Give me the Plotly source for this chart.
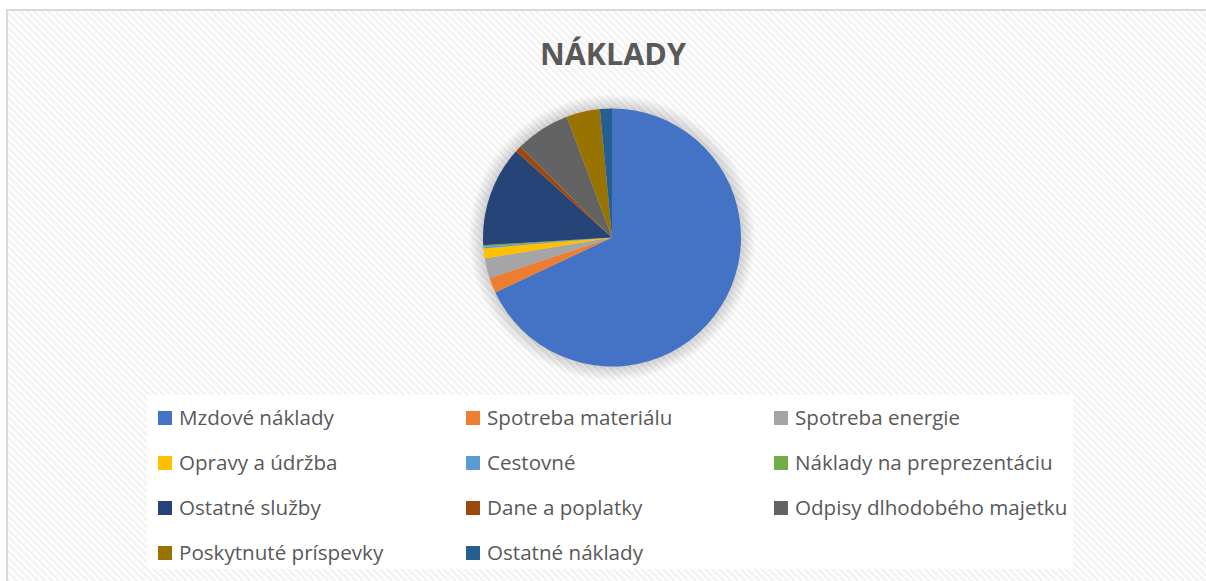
import base64
import plotly.graph_objects as go

# ---- data ----
labels = ["Mzdové náklady", "Spotreba materiálu", "Spotreba energie",
          "Opravy a údržba", "Cestovné", "Náklady na preprezentáciu",
          "Ostatné služby", "Dane a poplatky", "Odpisy dlhodobého majetku",
          "Poskytnuté príspevky", "Ostatné náklady"]
values = [68.0, 1.9, 2.5, 1.25, 0.2, 0.2, 12.6, 0.75, 6.9, 4.2, 1.5]
colors = ["#4472C4", "#ED7D31", "#A5A5A5", "#FFC000", "#5B9BD5", "#70AD47",
          "#264478", "#9E480E", "#636363", "#997300", "#255E91"]
title_text = "NÁKLADY"

W, H = 1206, 581

def px(x):
    return x / W

def py(y):
    return 1 - y / H

# pie geometry (pixels)
cx, cy, r = 612, 237.5, 129

fig = go.Figure()
fig.add_trace(go.Pie(
    labels=labels, values=values, sort=False, direction="clockwise", rotation=0,
    marker=dict(colors=colors, line=dict(width=0)),
    textinfo="none", hoverinfo="label+percent", showlegend=False,
    domain=dict(x=[px(cx - r), px(cx + r)], y=[py(cy + r), py(cy - r)]),
))

# hatched background as svg image
svg = f'''<svg xmlns="http://www.w3.org/2000/svg" width="{W}" height="{H}" viewBox="0 0 {W} {H}" preserveAspectRatio="none">
<defs><pattern id="p" width="5" height="5" patternUnits="userSpaceOnUse" patternTransform="rotate(-45)">
<rect width="5" height="5" fill="#ffffff"/><rect width="2.5" height="5" fill="#f2f2f2"/></pattern></defs>
<rect x="7" y="10" width="{W}" height="{H}" fill="url(#p)"/></svg>'''
src = "data:image/svg+xml;base64," + base64.b64encode(svg.encode()).decode()

shapes = []
# chart frame
shapes.append(dict(type="rect", xref="paper", yref="paper", x0=px(7), x1=px(W + 10),
                   y0=py(H + 10), y1=py(10), line=dict(color="#d9d9d9", width=2),
                   fillcolor="rgba(0,0,0,0)", layer="below"))
# legend white box
shapes.append(dict(type="rect", xref="paper", yref="paper", x0=px(147), x1=px(1073),
                   y0=py(569), y1=py(395), line=dict(width=0), fillcolor="#ffffff",
                   layer="below"))
# soft glow around pie
for k in range(10, 0, -1):
    rr = r + k * 1.4
    shapes.append(dict(type="circle", xref="paper", yref="paper",
                       x0=px(cx - rr), x1=px(cx + rr), y0=py(cy + rr), y1=py(cy - rr),
                       line=dict(width=0), fillcolor="rgba(0,0,0,0.016)", layer="below"))

annotations = [dict(text=f"<b>{title_text}</b>", x=px(613), y=py(53), xref="paper", yref="paper",
                    xanchor="center", yanchor="middle", showarrow=False,
                    font=dict(family="Open Sans", size=30.5, color="#595959"))]

# manual legend: 3 columns
col_x = [158, 466, 774]
row_y = [418, 463, 508, 553]
for i, (lab, col) in enumerate(zip(labels, colors)):
    rx = col_x[i % 3]
    ry = row_y[i // 3]
    shapes.append(dict(type="rect", xref="paper", yref="paper", x0=px(rx), x1=px(rx + 14),
                       y0=py(ry + 7), y1=py(ry - 7), line=dict(width=0), fillcolor=col))
    annotations.append(dict(text=lab, x=px(rx + 19), y=py(ry - 1), xref="paper", yref="paper",
                            xanchor="left", yanchor="middle", showarrow=False,
                            font=dict(family="Open Sans", size=20.6, color="#595959")))

fig.update_layout(
    width=W, height=H, margin=dict(l=0, r=0, t=0, b=0),
    paper_bgcolor="#ffffff", plot_bgcolor="#ffffff",
    showlegend=False,
    images=[dict(source=src, xref="paper", yref="paper", x=0, y=1, sizex=1, sizey=1,
                 sizing="stretch", xanchor="left", yanchor="top", layer="below")],
    shapes=shapes, annotations=annotations,
)

fig.write_html("out.html")
